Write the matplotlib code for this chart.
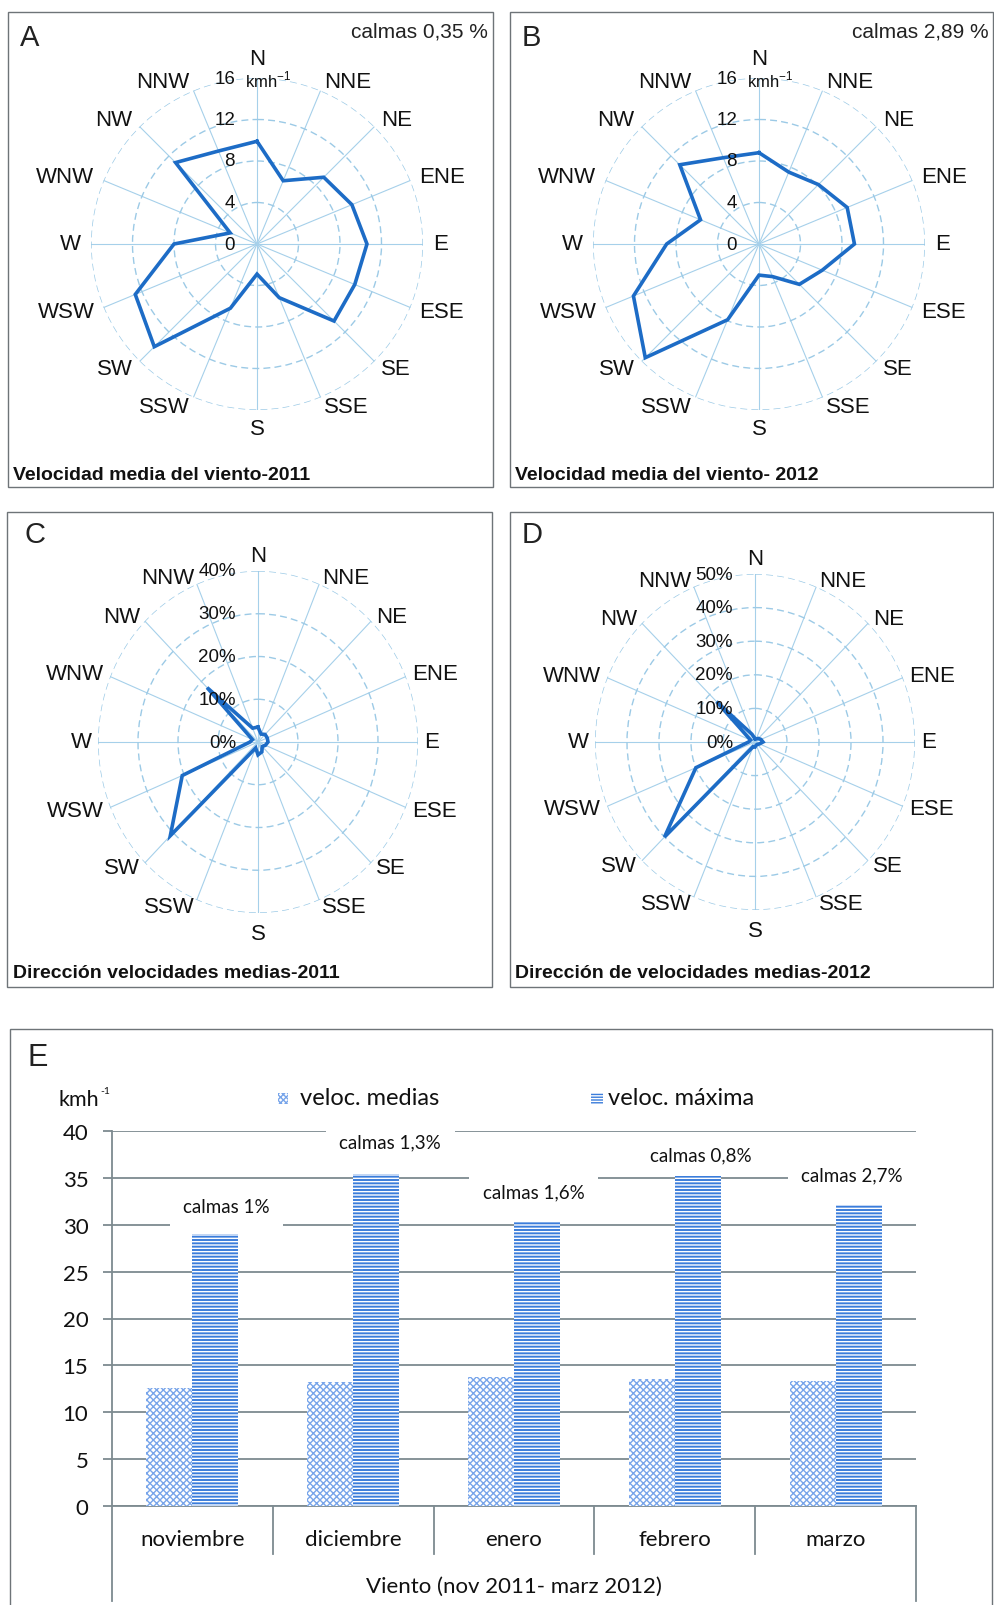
import numpy as np
import matplotlib
matplotlib.use("Agg")
import matplotlib.pyplot as plt
from matplotlib.patches import Rectangle
from matplotlib.transforms import ScaledTranslation

plt.rcParams["font.family"] = ["Liberation Sans", "DejaVu Sans"]
plt.rcParams["hatch.linewidth"] = 1.0

W, H, DPI = 994, 1606, 100

# --- rosas de los vientos (A-D) ---
rumbos = ["N", "NNE", "NE", "ENE", "E", "ESE", "SE", "SSE",
          "S", "SSW", "SW", "WSW", "W", "WNW", "NW", "NNW"]
vel_2011 = [9.9, 6.6, 9.1, 9.9, 10.6, 10.2, 10.5, 5.6,
            2.9, 6.7, 14.0, 12.7, 8.0, 2.8, 11.1, 9.7]
vel_2012 = [8.8, 7.5, 8.1, 9.2, 9.2, 6.6, 5.5, 3.4,
            3.0, 7.9, 15.5, 13.1, 8.9, 6.1, 10.8, 9.0]
dir_2011 = [3.5, 2.0, 2.5, 2.5, 2.5, 2.0, 1.5, 2.5,
            3.0, 1.5, 31.0, 20.5, 2.0, 1.5, 18.0, 3.5]
dir_2012 = [1.0, 1.0, 1.5, 2.0, 2.5, 1.5, 1.0, 1.0,
            1.5, 1.5, 40.0, 20.0, 2.0, 1.5, 17.0, 2.5]

anillos_vel = [0, 4, 8, 12, 16]
anillos_2011 = [0, 10, 20, 30, 40]
anillos_2012 = [0, 10, 20, 30, 40, 50]

# --- barras (E) ---
meses = ["noviembre", "diciembre", "enero", "febrero", "marzo"]
veloc_medias = [12.6, 13.2, 13.8, 13.6, 13.3]
veloc_maxima = [29.0, 35.4, 30.4, 35.4, 32.1]
calmas = ["calmas 1%", "calmas 1,3%", "calmas 1,6%", "calmas 0,8%", "calmas 2,7%"]

AZUL = "#1d6cc6"
REJILLA_R = "#9ccae6"
MARCO = "#6e7478"
GRIS = "#7d8a90"
TXT = "#111111"


def fx(px):
    return px / W


def fy(py):
    return 1 - py / H


fig = plt.figure(figsize=(W / DPI, H / DPI), dpi=DPI)


def marco(x0, y0, x1, y1):
    fig.add_artist(Rectangle((fx(x0), fy(y1)), (x1 - x0) / W, (y1 - y0) / H,
                             transform=fig.transFigure, fill=False,
                             ec=MARCO, lw=1.0))


def rosa(cx, cy, rx, ry, valores, anillos, etiquetas, unidad=None,
         f_lado=1.06, f_n=1.085, f_s=1.05):
    # rx, ry: radio exterior en pixeles (las rosas C y D salen algo ovaladas)
    ax = fig.add_axes([fx(cx - rx), fy(cy + ry), 2 * rx / W, 2 * ry / H],
                      projection="polar")
    ax.set_aspect("auto")
    ax.patch.set_alpha(0)
    ax.set_theta_zero_location("N")
    ax.set_theta_direction(-1)
    rmax = anillos[-1]
    ax.set_ylim(0, rmax)
    theta = np.deg2rad(np.arange(len(rumbos)) * 22.5)
    ax.set_xticks(theta)
    ax.set_xticklabels([])
    ax.set_yticks(anillos[1:])
    ax.set_yticklabels([])
    ax.xaxis.grid(True, color="#a6d0ea", lw=0.8, ls="-")
    ax.yaxis.grid(True, color=REJILLA_R, lw=1.0, ls=(0, (5, 3)))
    ax.spines["polar"].set_visible(False)

    t = np.append(theta, theta[0])
    v = np.append(valores, valores[0])
    ax.plot(t, v, color=AZUL, lw=2.6, solid_joinstyle="miter", zorder=5)

    # rotulos de rumbo pegados al borde exterior, alineados hacia fuera
    for ang, nombre in zip(theta, rumbos):
        s = np.sin(ang)
        if abs(s) < 0.01:
            if np.cos(ang) > 0:
                ax.text(ang, rmax * f_n, nombre, ha="center", va="baseline",
                        fontsize=16, color=TXT, clip_on=False)
            else:
                ax.text(ang, rmax * f_s, nombre, ha="center", va="top",
                        fontsize=16, color=TXT, clip_on=False)
        else:
            ax.text(ang, rmax * f_lado, nombre,
                    ha="left" if s > 0 else "right", va="center",
                    fontsize=16, color=TXT, clip_on=False)

    izq = ScaledTranslation(-22 / DPI, 0, fig.dpi_scale_trans)
    for r, lab in zip(anillos, etiquetas):
        ax.text(0, r, lab, transform=ax.transData + izq, ha="right",
                va="center", fontsize=13.5, color=TXT, zorder=6)
    if unidad:
        der = ScaledTranslation(-12 / DPI, -1 / DPI, fig.dpi_scale_trans)
        ax.text(0, rmax, unidad, transform=ax.transData + der, ha="left",
                va="center", fontsize=12, color=TXT, zorder=6)
    return ax


KMH = "kmh$^{\\mathregular{-1}}$"

# A
marco(8, 13, 493, 488)
rosa(257, 245, 166, 166, vel_2011, anillos_vel, [str(a) for a in anillos_vel], KMH)
fig.text(fx(20), fy(38), "A", fontsize=21, va="center", color="#222")
fig.text(fx(488), fy(32), "calmas 0,35 %", fontsize=15, ha="right", va="center", color="#222")
fig.text(fx(13), fy(475), "Velocidad media del viento-2011", fontsize=14,
         fontweight="bold", va="center", color=TXT)

# B
marco(510, 13, 993, 488)
rosa(759, 245, 166, 166, vel_2012, anillos_vel, [str(a) for a in anillos_vel], KMH)
fig.text(fx(522), fy(38), "B", fontsize=21, va="center", color="#222")
fig.text(fx(989), fy(32), "calmas 2,89 %", fontsize=15, ha="right", va="center", color="#222")
fig.text(fx(515), fy(475), "Velocidad media del viento- 2012", fontsize=14,
         fontweight="bold", va="center", color=TXT)

# C
marco(7, 513, 492, 988)
rosa(258, 743, 160, 171, dir_2011, anillos_2011, [f"{a}%" for a in anillos_2011],
     f_lado=1.04, f_n=1.06, f_s=1.06)
fig.text(fx(24), fy(535), "C", fontsize=21, va="center", color="#222")
fig.text(fx(13), fy(974), "Dirección velocidades medias-2011", fontsize=14,
         fontweight="bold", va="center", color=TXT)

# D
marco(510, 513, 993, 988)
rosa(755, 743, 160, 168, dir_2012, anillos_2012, [f"{a}%" for a in anillos_2012],
     f_lado=1.04, f_n=1.06, f_s=1.06)
fig.text(fx(522), fy(535), "D", fontsize=21, va="center", color="#222")
fig.text(fx(515), fy(974), "Dirección de velocidades medias-2012", fontsize=14,
         fontweight="bold", va="center", color=TXT)

# E: barras mensuales
marco(10, 1030, 992, 1640)
FE = ["Lato", "DejaVu Sans"]
ax = fig.add_axes([fx(112), fy(1507), (916 - 112) / W, (1507 - 1132) / H])
x = np.arange(len(meses))
bw = 0.286
ax.bar(x - bw / 2, veloc_medias, bw, facecolor="white", edgecolor="#78a5ea",
       hatch="xxxxx", lw=0, zorder=3)
ax.bar(x + bw / 2, veloc_maxima, bw, facecolor="#3b7ddb", edgecolor="white",
       hatch="-----", lw=0, zorder=3)
ax.set_xlim(-0.5, len(meses) - 0.5)
ax.set_ylim(0, 40)
ax.set_yticks(np.arange(0, 41, 5))
ax.yaxis.grid(True, color=GRIS, lw=1.3)
ax.set_axisbelow(True)
for s in ["top", "right"]:
    ax.spines[s].set_visible(False)
for s in ["left", "bottom"]:
    ax.spines[s].set_color(GRIS)
    ax.spines[s].set_linewidth(1.3)
ax.tick_params(axis="y", length=6.5, width=1.3, color=GRIS, pad=10.5,
               labelsize=16, labelcolor=TXT)
for lab in ax.get_yticklabels():
    lab.set_family(FE)
ax.set_xticks([])

# eje de categorias en dos niveles
xt = ax.get_xaxis_transform()
ax.plot([-0.5, -0.5], [0, -0.253], transform=xt, color=GRIS, lw=1.3, clip_on=False)
ax.plot([len(meses) - 0.5] * 2, [0, -0.253], transform=xt, color=GRIS, lw=1.3, clip_on=False)
for b in x[:-1] + 0.5:
    ax.plot([b, b], [0, -0.128], transform=xt, color=GRIS, lw=1.3, clip_on=False)
for i, m in enumerate(meses):
    ax.text(i, -0.088, m, transform=xt, ha="center", va="center",
            fontsize=16, family=FE, color=TXT)
ax.text(2, -0.213, "Viento (nov 2011- marz 2012)", transform=xt, ha="center",
        va="center", fontsize=16, family=FE, color=TXT)

# etiquetas de calmas
calmas_x = x + bw / 2 + np.array([0.07, 0.087, -0.02, 0.02, -0.04])
calmas_y = [31.9, 38.8, 33.5, 37.5, 35.3]
for cxp, cyp, s in zip(calmas_x, calmas_y, calmas):
    ax.text(cxp, cyp, s, ha="center", va="center", fontsize=13.5, family=FE,
            color=TXT, zorder=4,
            bbox=dict(boxstyle="square,pad=0.72", fc="white", ec="none"))

# leyenda y rotulos
fig.text(fx(28), fy(1058), "E", fontsize=22, va="center", color="#222")
fig.text(fx(58), fy(1100), "kmh", fontsize=15.5, va="center", family=FE, color=TXT)
fig.text(fx(100), fy(1092), "-1", fontsize=7.5, va="center", family=FE, color=TXT)
fig.add_artist(Rectangle((fx(278), fy(1105)), 10 / W, 11 / H, transform=fig.transFigure,
                         facecolor="white", edgecolor="#78a5ea", hatch="xxxxxx", lw=0))
fig.text(fx(300), fy(1099), "veloc. medias", fontsize=17, va="center", family=FE,
         color=TXT)
fig.add_artist(Rectangle((fx(591), fy(1105)), 12 / W, 11 / H, transform=fig.transFigure,
                         facecolor="#3b7ddb", edgecolor="white", hatch="------", lw=0))
fig.text(fx(608), fy(1099), "veloc. máxima", fontsize=17, va="center", family=FE,
         color=TXT)

fig.savefig("out.png", dpi=DPI, facecolor="white")
